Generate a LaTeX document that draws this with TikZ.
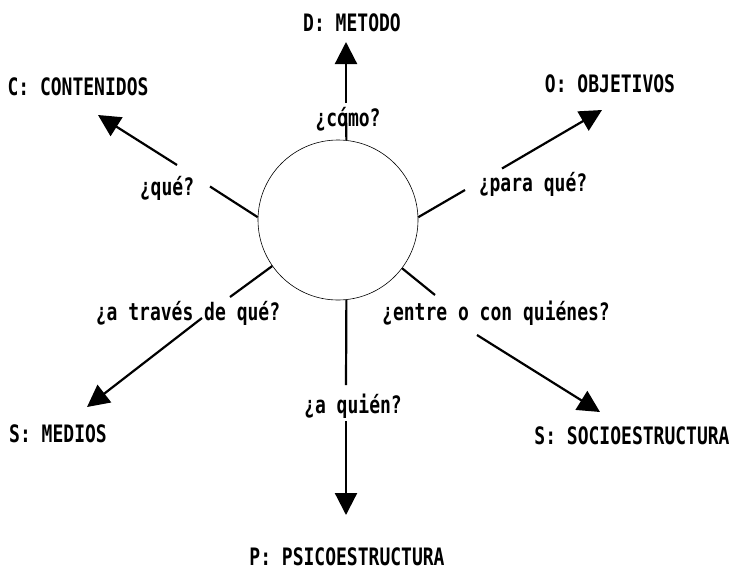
\documentclass[tikz,border=0pt]{standalone}
\usepackage{fontspec}
\newfontfamily\dotmx[FakeStretch=0.75]{DejaVu Sans Mono}
\usetikzlibrary{arrows.meta,calc}
\begin{document}
\begin{tikzpicture}[x=1pt,y=-1pt,
  lbl/.style={font=\dotmx\bfseries\fontsize{24}{24}\selectfont, inner sep=0pt, text height=17.5pt, text depth=0pt, anchor=center},
  conn/.style={line width=2.2pt},
  arr/.style={conn, -{Triangle[length=22pt,width=22pt]}},
  hub/.style={circle, draw, line width=0.6pt, minimum size=160pt, inner sep=0pt}]
\fill[white] (0,0) rectangle (735,571);
\useasboundingbox (0,0) rectangle (735,571);

\node[hub] (c) at (338,220) {};

\coordinate (tM) at (346,42);
\coordinate (tC) at (98,115);
\coordinate (tO) at (602,110);
\coordinate (tMe) at (87,407);
\coordinate (tS) at (600,412);
\coordinate (tP) at (346,515);

\node[lbl] (lM) at (352,23) {D: METODO};
\node[lbl] (lC) at (78,87) {C: CONTENIDOS};
\node[lbl] (lO) at (610,84) {O: OBJETIVOS};
\node[lbl] (lMe) at (58,434) {S: MEDIOS};
\node[lbl] (lS) at (632,436) {S: SOCIOESTRUCTURA};
\node[lbl] (lP) at (347,557) {P: PSICOESTRUCTURA};

\node[lbl] (qM) at (348,118) {¿cómo?};
\node[lbl] (qC) at (167,187) {¿qué?};
\node[lbl] (qO) at (533,183) {¿para qué?};
\node[lbl] (qMe) at (188,312) {¿a través de qué?};
\node[lbl] (qS) at (496,312) {¿entre o con quiénes?};
\node[lbl] (qP) at (353,405) {¿a quién?};

\coordinate (aM1) at (346,113); \coordinate (aM2) at (346,103);
\coordinate (aC1) at (210,186.5); \coordinate (aC2) at (177,165);
\coordinate (aO1) at (465,190); \coordinate (aO2) at (502,168.5);
\coordinate (aMe1) at (230,297); \coordinate (aMe2) at (202,318);
\coordinate (aS1) at (435,295); \coordinate (aS2) at (477,335);
\coordinate (aP1) at (346,385); \coordinate (aP2) at (346,421);

\draw[conn] (c.84) -- (aM1); \draw[arr] (aM2) -- (tM);
\draw[conn] (c.178) -- (aC1); \draw[arr] (aC2) -- (tC);
\draw[conn] (c.2) -- (aO1); \draw[arr] (aO2) -- (tO);
\draw[conn] (c.215) -- (aMe1); \draw[arr] (aMe2) -- (tMe);
\draw[conn] (c.-37) -- (aS1); \draw[arr] (aS2) -- (tS);
\draw[conn] (c.-84) -- (aP1); \draw[arr] (aP2) -- (tP);
\end{tikzpicture}
\end{document}
